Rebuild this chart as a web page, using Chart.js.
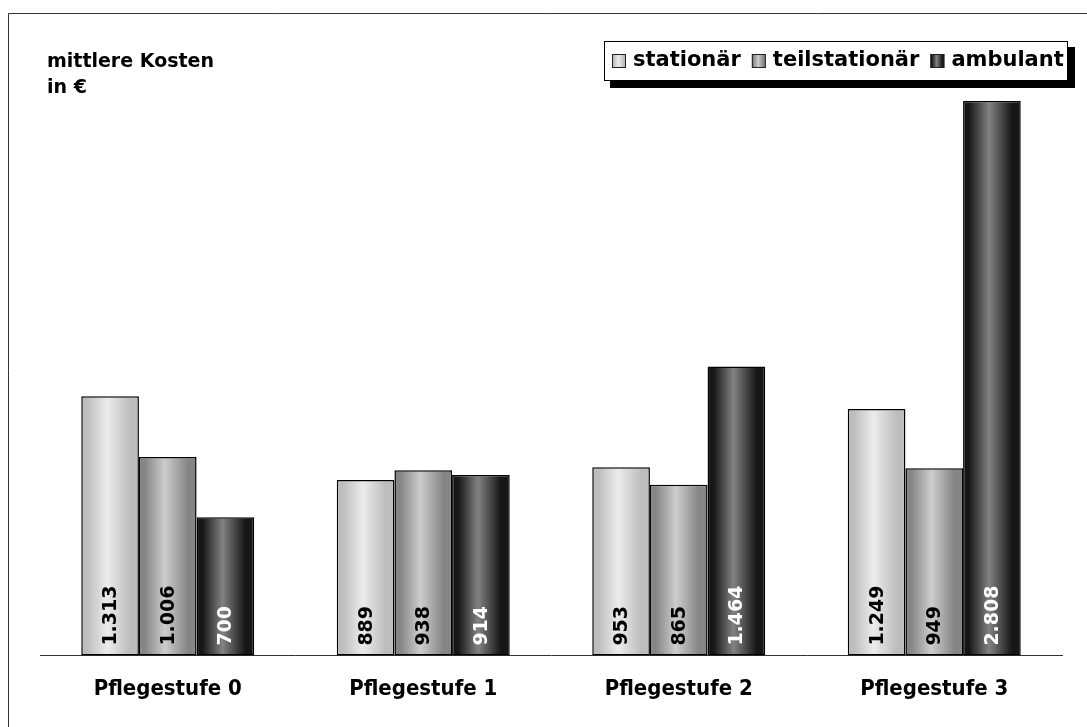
<!DOCTYPE html>
<html>
<head>
<meta charset="utf-8">
<script src="https://cdn.jsdelivr.net/npm/chart.js@4.4.1/dist/chart.umd.min.js"></script>
<style>
  html, body { margin: 0; padding: 0; background: #fff; }
  #wrap { width: 1087px; height: 727px; position: relative; }
</style>
</head>
<body>
<div id="wrap"><canvas id="chart" width="1087" height="727"></canvas></div>
<script>
// data
var kategorien = ['Pflegestufe 0', 'Pflegestufe 1', 'Pflegestufe 2', 'Pflegestufe 3'];
var stationaer = [1313, 889, 953, 1249];
var teilstationaer = [1006, 938, 865, 949];
var ambulant = [700, 914, 1464, 2808];
var serien = ['stationär', 'teilstationär', 'ambulant'];
var achsenTitel = ['mittlere Kosten', 'in €'];

// edge / centre greys for the cylinder look
var farben = [
  { rand: '#bdbdbd', mitte: '#ececec', text: '#000' },
  { rand: '#858585', mitte: '#cdcdcd', text: '#000' },
  { rand: '#161616', mitte: '#828282', text: '#fff' }
];

function verlauf(ctx, x0, x1, f) {
  var g = ctx.createLinearGradient(x0, 0, x1, 0);
  g.addColorStop(0, f.rand);
  g.addColorStop(0.1, f.rand);
  g.addColorStop(0.45, f.mitte);
  g.addColorStop(0.85, f.rand);
  g.addColorStop(1, f.rand);
  return g;
}

function deutsch(v) {
  return v.toString().replace(/\B(?=(\d{3})+(?!\d))/g, '.');
}

var rahmen = {
  id: 'rahmen',
  beforeDraw: function(chart) {
    var ctx = chart.ctx;
    ctx.save();
    ctx.strokeStyle = '#333';
    ctx.lineWidth = 1;
    ctx.beginPath();
    ctx.moveTo(8.5, 727);
    ctx.lineTo(8.5, 13.5);
    ctx.lineTo(1087, 13.5);
    ctx.stroke();

    // y title
    ctx.fillStyle = '#000';
    ctx.font = 'bold 19px "DejaVu Sans"';
    ctx.textAlign = 'left';
    ctx.textBaseline = 'alphabetic';
    ctx.fillText(achsenTitel[0], 47, 67);
    ctx.fillText(achsenTitel[1], 47, 93);

    // legend box with shadow
    ctx.fillStyle = '#000';
    ctx.fillRect(610, 47, 465, 41);
    ctx.fillStyle = '#fff';
    ctx.fillRect(604, 41, 464, 40);
    ctx.strokeStyle = '#000';
    ctx.strokeRect(604.5, 41.5, 463, 39);

    ctx.font = 'bold 21px "DejaVu Sans"';
    ctx.textBaseline = 'middle';
    var x = 612;
    for (var i = 0; i < serien.length; i++) {
      ctx.fillStyle = verlauf(ctx, x, x + 14, farben[i]);
      ctx.fillRect(x, 54, 14, 14);
      ctx.strokeStyle = '#222';
      ctx.strokeRect(x + 0.5, 54.5, 13, 13);
      ctx.fillStyle = '#000';
      ctx.fillText(serien[i], x + 21, 61);
      x = x + 21 + ctx.measureText(serien[i]).width + 11;
    }
    ctx.restore();
  },
  beforeDatasetsDraw: function(chart) {
    chart.data.datasets.forEach(function(ds, i) {
      var meta = chart.getDatasetMeta(i);
      meta.data.forEach(function(el) {
        var o = Object.assign({}, el.options);
        o.backgroundColor = verlauf(chart.ctx, el.x - el.width / 2, el.x + el.width / 2, farben[i]);
        el.options = o;
      });
    });
  },
  afterDatasetsDraw: function(chart) {
    var ctx = chart.ctx;
    var unten = chart.scales.y.getPixelForValue(0);
    ctx.save();
    ctx.font = 'bold 19px "DejaVu Sans"';
    ctx.textAlign = 'left';
    ctx.textBaseline = 'middle';
    chart.data.datasets.forEach(function(ds, i) {
      var meta = chart.getDatasetMeta(i);
      meta.data.forEach(function(el, j) {
        ctx.save();
        ctx.translate(el.x + 1, unten - 10);
        ctx.rotate(-Math.PI / 2);
        ctx.fillStyle = farben[i].text;
        ctx.fillText(deutsch(ds.data[j]), 0, 0);
        ctx.restore();
      });
    });
    ctx.restore();
  }
};

var balken = { borderColor: '#000', borderWidth: 1.5, borderSkipped: false, backgroundColor: '#ccc' };

var chartdata = {
  labels: kategorien,
  datasets: [
    Object.assign({ label: serien[0], data: stationaer }, balken),
    Object.assign({ label: serien[1], data: teilstationaer }, balken),
    Object.assign({ label: serien[2], data: ambulant }, balken)
  ]
};

var ctx = document.getElementById('chart');
var barGraph = new Chart(ctx, {
  type: 'bar',
  data: chartdata,
  plugins: [rahmen],
  options: {
    responsive: false,
    animation: false,
    layout: { padding: { top: 63, left: 40, right: 25, bottom: 5 } },
    datasets: {
      bar: {
        barPercentage: 1,
        categoryPercentage: 0.677
      }
    },
    plugins: {
      colors: { enabled: false },
      legend: { display: false },
      tooltip: { enabled: false }
    },
    scales: {
      x: {
        grid: { display: false, drawTicks: false },
        border: { display: true, color: '#333', width: 1 },
        ticks: {
          color: '#000',
          padding: 20,
          font: { family: '"DejaVu Sans Condensed", "DejaVu Sans"', weight: 'bold', size: 22 }
        }
      },
      y: {
        display: false,
        min: 0,
        max: 3000
      }
    }
  }
});
</script>
</body>
</html>
